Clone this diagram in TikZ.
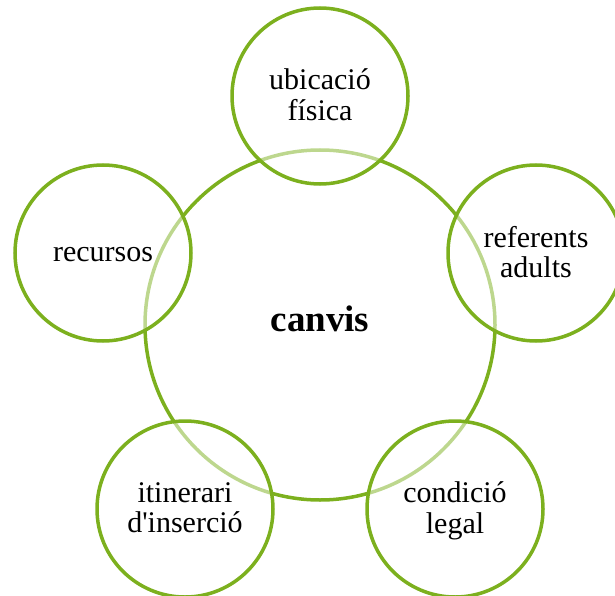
\documentclass[tikz,border=0pt]{standalone}
\usepackage{fontspec}
\setmainfont{Liberation Serif}
\definecolor{gdark}{RGB}{124,176,30}
\begin{document}
\begin{tikzpicture}[x=1pt,y=-1pt,
  hub/.style={circle,draw=gdark,line width=3.5pt,minimum size=350pt,inner sep=0pt},
  sat/.style={circle,draw=gdark,line width=3.5pt,fill=white,fill opacity=0.5,minimum size=176pt,inner sep=0pt},
  lbl/.style={align=center,inner sep=0pt,font=\fontsize{30}{28.5}\selectfont,yshift=-3pt},
  hublbl/.style={anchor=base,inner sep=0pt,font=\bfseries\fontsize{37}{40}\selectfont}]
\useasboundingbox (0,0) rectangle (615,596);
\clip (0,0) rectangle (615,596);
\node[hub] (hub) at (320,325) {};
\node[sat] (top) at (320,96) {};
\node[sat] (right) at (536,253) {};
\node[sat] (br) at (455,509) {};
\node[sat] (bl) at (185,509) {};
\node[sat] (left) at (103,253) {};
\node[hublbl] (hubtxt) at (320,331) {canvis};
\node[lbl] (toptxt) at (top.center) {\strut ubicació\\\strut física};
\node[lbl] (righttxt) at (right.center) {\strut referents\\\strut adults};
\node[lbl] (brtxt) at (br.center) {\strut condició\\\strut legal};
\node[lbl] (bltxt) at (bl.center) {\strut itinerari\\\strut d\textquotesingle inserció};
\node[lbl] (lefttxt) at (left.center) {\strut recursos};
\end{tikzpicture}
\end{document}
